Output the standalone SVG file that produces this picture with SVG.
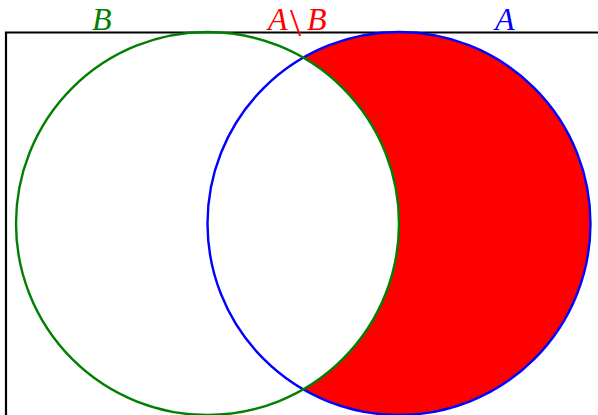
<svg xmlns="http://www.w3.org/2000/svg" width="598" height="415" viewBox="0 0 598 415">
<style>
.lbl{font-family:"Liberation Serif","DejaVu Serif",serif;font-style:italic;font-size:32px;}
.frame{fill:none;stroke:#000;stroke-width:2.2;}
.circ{fill:none;stroke-width:2.4;}
</style>
<rect width="598" height="415" fill="#fff"/>
<g id="frame"><path class="frame" d="M6,415 V32.5 H598"/></g>
<g id="diff"><path d="M303.25,57.66 A191.5,191.5 0 1 1 303.25,389.34 A191.5,191.5 0 0 0 303.25,57.66 Z" fill="#ff0000"/></g>
<g id="A"><circle class="circ" cx="399" cy="223.5" r="191.5" stroke="#0000ff"/></g>
<g id="B"><circle class="circ" cx="207.5" cy="223.5" r="191.5" stroke="#008000"/></g>
<g id="labels">
<text class="lbl" x="92" y="30" fill="#008000">B</text>
<text class="lbl" y="30" fill="#ff0000"><tspan x="268">A</tspan><tspan x="290" y="36" font-style="normal" font-size="40">\</tspan><tspan x="307" y="30">B</tspan></text>
<text class="lbl" x="495" y="30" fill="#0000ff">A</text>
</g>
</svg>
